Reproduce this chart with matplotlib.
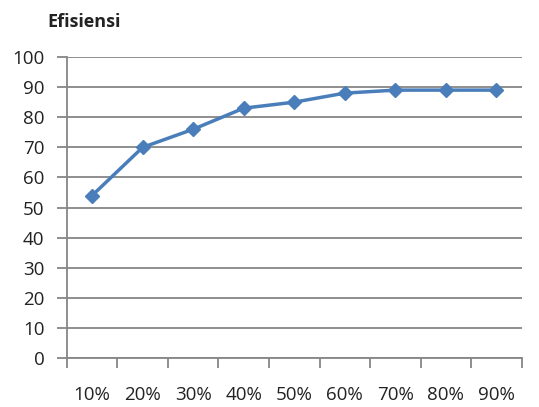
import numpy as np
import matplotlib.pyplot as plt

# data
categories = ['10%', '20%', '30%', '40%', '50%', '60%', '70%', '80%', '90%']
efisiensi = [54, 70, 76, 83, 85, 88, 89, 89, 89]
y_ticks = list(range(0, 101, 10))

plt.rcParams['font.family'] = ['Open Sans', 'DejaVu Sans']

fig = plt.figure(figsize=(5.39, 4.07), dpi=100)
ax = fig.add_axes([0.124, 0.120, 0.844, 0.740])

x = np.arange(len(categories))
ax.plot(x, efisiensi, color='#4a7ebb', linewidth=2.5, marker='D',
        markersize=7, zorder=3)

# axis limits / grid
ax.set_xlim(-0.5, len(categories) - 0.5)
ax.set_ylim(0, 100)
ax.set_yticks(y_ticks)
ax.yaxis.grid(True, color='#868686', linewidth=1.3)
ax.set_axisbelow(True)

# category labels in the middle, tick marks on boundaries
ax.set_xticks(x)
ax.set_xticklabels(categories)
ax.set_xticks(np.arange(-0.5, len(categories)), minor=True)
ax.tick_params(axis='x', which='major', length=0, pad=20, labelsize=13.5,
               labelcolor='#222222')
ax.tick_params(axis='x', which='minor', length=7, width=1.3, color='#868686')
ax.tick_params(axis='y', length=7, width=1.3, color='#868686', pad=9,
               labelsize=13.5, labelcolor='#222222')

for side in ['top', 'right']:
    ax.spines[side].set_visible(False)
for side in ['left', 'bottom']:
    ax.spines[side].set_color('#868686')
    ax.spines[side].set_linewidth(1.3)

fig.text(0.087, 0.947, 'Efisiensi', fontsize=13, fontweight='bold',
         color='#222222', va='center', ha='left')

plt.savefig('out.png', dpi=100)
